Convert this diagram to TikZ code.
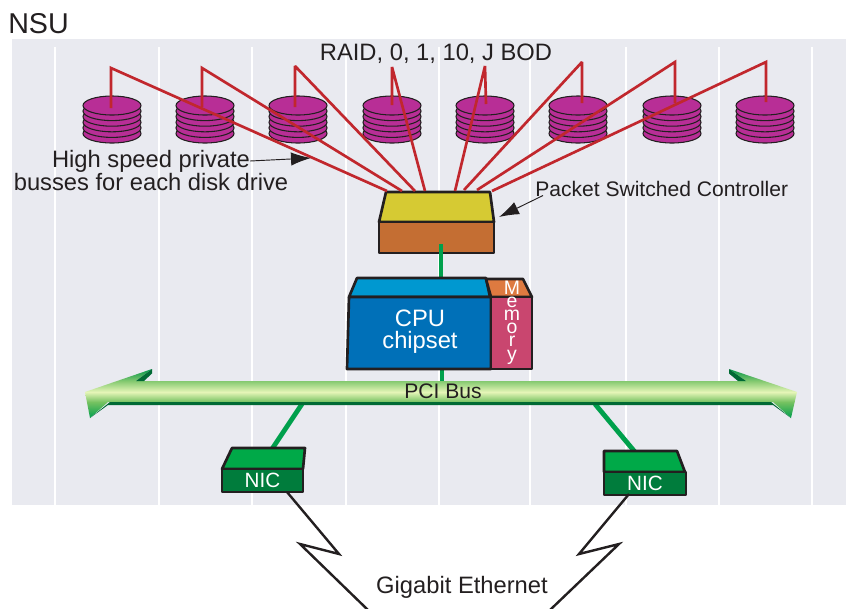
\documentclass[tikz,border=0pt]{standalone}
\usepackage{fontspec}
\setmainfont{Liberation Sans}
\usetikzlibrary{arrows.meta}
\definecolor{bgc}{HTML}{E9EAF0}
\definecolor{ink}{HTML}{231F20}
\definecolor{wire}{HTML}{C1272D}
\definecolor{disc}{HTML}{B82E96}
\definecolor{ctrltop}{HTML}{D6CA33}
\definecolor{ctrlfront}{HTML}{C46E33}
\definecolor{cputop}{HTML}{0098D0}
\definecolor{cpufront}{HTML}{0070B8}
\definecolor{memtop}{HTML}{DE7A40}
\definecolor{memfront}{HTML}{C9466F}
\definecolor{nictop}{HTML}{00A948}
\definecolor{nicfront}{HTML}{007C3C}
\definecolor{link}{HTML}{00A04C}
\definecolor{busdark}{HTML}{006A34}
\pgfdeclareverticalshading{busshade}{100bp}{
  rgb(0bp)=(0,0.62,0.30);
  rgb(25bp)=(0,0.62,0.30);
  rgb(41.3bp)=(0.46,0.76,0.38);
  rgb(51.5bp)=(0.90,0.96,0.72);
  rgb(62.7bp)=(0.52,0.79,0.44);
  rgb(75bp)=(0,0.58,0.28);
  rgb(100bp)=(0,0.58,0.28)}
\tikzset{
  x=0.75pt,y=-0.75pt,
  lab/.style={inner sep=0pt,text=ink,font=\fontsize{17.8pt}{16.5pt}\selectfont,align=center},
  small/.style={inner sep=0pt,text=ink,font=\fontsize{15.8pt}{16.5pt}\selectfont},
  whitetxt/.style={text=white,align=center},
  solidbox/.style={draw=ink,line width=2pt,line join=round,inner sep=0pt,outer sep=0pt,anchor=north west},
  face/.style={draw=ink,line width=2pt,line join=round},
  redwire/.style={draw=wire,line width=2pt,line join=miter,miter limit=2.5},
  greenlink/.style={draw=link,line width=3.6pt},
  bolt/.style={draw=ink,line width=1.8pt,line join=miter},
  pointer/.style={draw=ink,line width=0.7pt,-{Latex[length=15pt,width=10pt]}},
  disk/.pic={
    \foreach \k in {5,4,3,2,1,0}{
      \path[fill=disc,draw=ink,line width=0.8pt] (0,{\k*5.6}) ellipse [x radius=29,y radius=9.5];
    }
  }
}
\begin{document}
\begin{tikzpicture}
\useasboundingbox (0,0) rectangle (846,608);
\clip (0,0) rectangle (846,608);
% backdrop
\fill[bgc] (12,39) rectangle (846,505);
\foreach \xx in {55,159,252,346,439,530,626,719,812}{
  \draw[white,line width=1.9pt] (\xx,47) -- (\xx,505);
}
% disks
\foreach \n/\xx in {1/112,2/205,3/298,4/392,5/485,6/578,7/672,8/765}{
  \coordinate (d\n) at (\xx,105.5);
  \pic at (d\n) {disk};
}
% controller
\coordinate (ca) at (386,192); \coordinate (cb) at (490,192);
\coordinate (cc) at (494,222); \coordinate (cd) at (379,222);
\path[face,fill=ctrltop] (ca) -- (cb) -- (cc) -- (cd) -- cycle;
\node[solidbox,fill=ctrlfront,minimum width=86.25pt,minimum height=23.25pt] (ctrl) at (379,222) {};
% private busses
\coordinate (w1) at (111,108); \coordinate (t1) at (111,68); \coordinate (e1) at (387,191);
\coordinate (w2) at (202,107); \coordinate (t2) at (202,68); \coordinate (e2) at (402,191);
\coordinate (w3) at (295,107); \coordinate (t3) at (295,66); \coordinate (e3) at (415,191);
\coordinate (w4) at (392,105); \coordinate (t4) at (392,67); \coordinate (e4) at (425,191);
\coordinate (w5) at (486,104); \coordinate (t5) at (485,66); \coordinate (e5) at (455,191);
\coordinate (w6) at (582,103); \coordinate (t6) at (582,62); \coordinate (e6) at (464,190);
\coordinate (w7) at (675,103); \coordinate (t7) at (675,62); \coordinate (e7) at (477,190);
\coordinate (w8) at (766,102); \coordinate (t8) at (766,62); \coordinate (e8) at (492,191);
\foreach \n in {1,...,8}{
  \draw[redwire] (w\n) -- (t\n) -- (e\n);
}
% green links
\coordinate (ctrllink) at (441,244);
\coordinate (cpubot) at (442,369);
\coordinate (busmid) at (442,383);
\coordinate (busl) at (302,404);
\coordinate (busr) at (595,404);
\coordinate (nicltop) at (272,449);
\coordinate (nicrtop) at (635,452);
\coordinate (cputopc) at (441,280);
\draw[greenlink] (ctrllink) -- (cputopc);
\draw[greenlink] (cpubot) -- (busmid);
\draw[greenlink] (busl) -- (nicltop);
\draw[greenlink] (busr) -- (nicrtop);
% CPU
\path[face,fill=cputop] (357,278) -- (486,278) -- (490,297) -- (349,297) -- cycle;
\path[face,fill=memtop] (486,279) -- (523,279) -- (532,297) -- (491,297) -- cycle;
\path[face,fill=cpufront] (349,297) -- (491,297) -- (491,369) -- (347,369) -- cycle;
\node[whitetxt,inner sep=0pt,font=\fontsize{17.8pt}{16.5pt}\selectfont] (cpu) at (420,332) {CPU\\chipset};
\node[solidbox,fill=memfront,minimum width=30.75pt,minimum height=54pt] (mem) at (491,297) {};
\node[whitetxt,inner sep=0pt,font=\fontsize{14.6pt}{9.9pt}\selectfont] (memlabel) at (512,322.5) {M\\e\\m\\o\\r\\y};
% PCI bus
\path[shading=busshade] (85,392) -- (152,369) -- (136,381) -- (746,381) -- (729,369) -- (797,392)
  -- (791,418) -- (773,402) -- (108,402) -- (90,418) -- cycle;
\fill[busdark] (90,418) -- (108,405) -- (773,405) -- (791,418) -- (771,402) -- (110,402) -- cycle;
\fill[busdark] (152,369) -- (136,381) -- (144,381) -- (152,373.5) -- cycle;
\fill[busdark] (729,369) -- (746,381) -- (738,381) -- (729,373.5) -- cycle;
\node[small] (pci) at (443,391) {PCI Bus};
% NICs
\path[face,fill=nictop] (232,448) -- (305,448) -- (303,469) -- (222,469) -- cycle;
\node[solidbox,fill=nicfront,minimum width=60.75pt,minimum height=17.25pt,text=white,font=\fontsize{15.5pt}{16pt}\selectfont] (nicl) at (222,469) {NIC};
\path[face,fill=nictop] (604,451) -- (677,451) -- (685,472) -- (604,472) -- cycle;
\node[solidbox,fill=nicfront,minimum width=61.5pt,minimum height=17.25pt,text=white,font=\fontsize{15.5pt}{16pt}\selectfont] (nicr) at (604,472) {NIC};
% gigabit links
\coordinate (boltla) at (287,492); \coordinate (boltlb) at (339,554);
\coordinate (boltlc) at (300,544); \coordinate (boltld) at (368,610);
\coordinate (boltra) at (629,494); \coordinate (boltrb) at (579,554);
\coordinate (boltrc) at (619,544); \coordinate (boltrd) at (550,610);
\draw[bolt] (boltla) -- (boltlb) -- (boltlc) -- (boltld);
\draw[bolt] (boltra) -- (boltrb) -- (boltrc) -- (boltrd);
% labels
\node[inner sep=0pt,text=ink,font=\fontsize{21.5pt}{22pt}\selectfont,anchor=base west] (nsu) at (8,33) {NSU};
\node[lab,anchor=base] (raid) at (436,60) {RAID, 0, 1, 10, J BOD};
\node[lab,anchor=center] (hs) at (151,170.5) {High speed private\\busses for each disk drive};
\node[small,anchor=base west] (psc) at (535,196) {Packet Switched Controller};
\node[lab,anchor=base] (ge) at (462,593) {Gigabit Ethernet};
% pointers
\coordinate (hsfrom) at (250,161); \coordinate (hsto) at (311,158);
\coordinate (pscfrom) at (543,195.5); \coordinate (pscto) at (499,217);
\draw[pointer] (hsfrom) -- (hsto);
\draw[pointer] (pscfrom) -- (pscto);
\end{tikzpicture}
\end{document}
